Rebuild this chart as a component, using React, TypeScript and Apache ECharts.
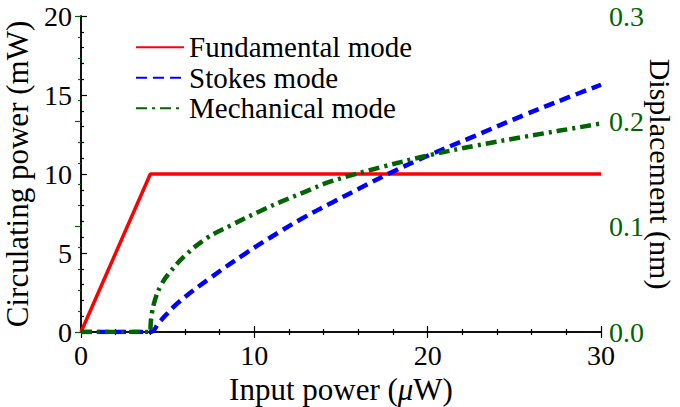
import React, { useEffect, useRef } from "react";
import * as echarts from "echarts";

const FONT = "Liberation Serif";
const GREEN = "#006400";

const seriesNames = ["Fundamental mode", "Stokes mode", "Mechanical mode"];

// Input power (μW) and circulating power (mW) of the fundamental mode
const fundX = [0, 4, 30];
const fundY = [0, 10, 10];

// Stokes mode circulating power (mW)
const stokesX = [0, 4, 4.5, 5.6, 7.5, 9.5, 11.4, 12.7, 14.5, 16, 17.8, 20.1, 22.7, 25.6, 28, 30];
const stokesY = [0, 0, 0.6, 1.85, 3.45, 4.98, 6.3, 7.15, 8.2, 9.05, 10.05, 11.2, 12.4, 13.75, 14.8, 15.65];

// Mechanical mode displacement (nm)
const mechX = [0, 4, 4.02, 4.08, 4.27, 4.6, 5.04, 6.0, 7.25, 8.69, 10.23, 11.58, 12.92, 14.37, 17.44, 20.14, 22.8, 25.6, 29.5, 30];
const mechY = [0, 0, 0.008, 0.017, 0.0305, 0.044, 0.055, 0.0725, 0.089, 0.1016, 0.114, 0.124, 0.133, 0.1427, 0.157, 0.168, 0.177, 0.1854, 0.1965, 0.198];

const zip = (xs: number[], ys: number[]) => xs.map((x, i) => [x, ys[i]]);

export default function App() {
  const ref = useRef<HTMLDivElement>(null);
  useEffect(() => {
    if (!ref.current) return;
    const chart = echarts.init(ref.current, null, { renderer: "svg" });
    const tickLine = { color: "#000", width: 1.2 };
    chart.setOption({
      animation: false,
      backgroundColor: "#fff",
      textStyle: { fontFamily: FONT },
      grid: { left: 81, right: 79, top: 16, bottom: 75, containLabel: false, outerBoundsMode: "none" },
      legend: {
        orient: "vertical",
        left: 130,
        top: 27,
        padding: 5,
        itemWidth: 48,
        itemHeight: 12,
        itemGap: 0,
        data: seriesNames,
        itemStyle: { opacity: 0 },
        textStyle: { fontFamily: FONT, fontSize: 29, color: "#000", lineHeight: 30.5 },
      },
      xAxis: [
        {
          type: "value",
          min: 0,
          max: 30,
          interval: 10,
          position: "bottom",
          name: "Input power ({it|μ}W)",
          nameLocation: "middle",
          nameGap: 32,
          nameTextStyle: {
            fontFamily: FONT,
            fontSize: 31,
            color: "#000",
            rich: { it: { fontFamily: FONT, fontSize: 31, fontStyle: "italic", color: "#000" } },
          },
          axisLine: { show: true, lineStyle: { color: "#000", width: 1.5 } },
          axisTick: { show: true, inside: true, length: 6, lineStyle: tickLine },
          minorTick: { show: true, splitNumber: 5, length: 3, lineStyle: tickLine },
          splitLine: { show: false },
          axisLabel: { fontFamily: FONT, fontSize: 28, color: "#000", margin: 9 },
        },
        {
          type: "value",
          min: 0,
          max: 30,
          interval: 10,
          position: "top",
          axisLine: { show: true, lineStyle: { color: "#000", width: 1.5 } },
          axisTick: { show: true, inside: true, length: 6, lineStyle: tickLine },
          minorTick: { show: true, splitNumber: 5, length: 3, lineStyle: tickLine },
          splitLine: { show: false },
          axisLabel: { show: false },
        },
      ],
      yAxis: [
        {
          type: "value",
          min: 0,
          max: 20,
          interval: 5,
          position: "left",
          name: "Circulating power (mW)",
          nameLocation: "middle",
          nameGap: 44,
          nameTextStyle: { fontFamily: FONT, fontSize: 31, color: "#000" },
          axisLine: { show: true, lineStyle: { color: "#000", width: 1.5 } },
          axisTick: { show: true, inside: true, length: 6, lineStyle: tickLine },
          minorTick: { show: true, splitNumber: 5, length: 3, lineStyle: tickLine },
          splitLine: { show: false },
          axisLabel: { fontFamily: FONT, fontSize: 28, color: "#000", margin: 9 },
        },
        {
          type: "value",
          min: 0,
          max: 0.3,
          interval: 0.1,
          position: "right",
          name: "Displacement (nm)",
          nameLocation: "middle",
          nameRotate: -90,
          nameGap: 44,
          nameMoveOverlap: false,
          nameTextStyle: { fontFamily: FONT, fontSize: 30, lineHeight: 30, color: "#000" },
          axisLine: { show: true, lineStyle: { color: "#000", width: 1.5 } },
          axisTick: { show: true, inside: true, length: 6, lineStyle: { color: GREEN, width: 1.2 } },
          minorTick: { show: true, splitNumber: 5, length: 3, lineStyle: { color: GREEN, width: 1.2 } },
          splitLine: { show: false },
          axisLabel: {
            fontFamily: FONT,
            fontSize: 28,
            color: GREEN,
            margin: 8,
            formatter: (v: number) => v.toFixed(1),
          },
        },
      ],
      series: [
        {
          name: seriesNames[0],
          type: "line",
          data: zip(fundX, fundY),
          symbol: "none",
          lineStyle: { color: "#ff0000", width: 3.5, type: "solid" },
          itemStyle: { color: "#ff0000" },
          z: 2,
        },
        {
          name: seriesNames[1],
          type: "line",
          data: zip(stokesX, stokesY),
          symbol: "none",
          smooth: 0.4,
          lineStyle: { color: "#0000ff", width: 4.5, type: [11, 6] },
          itemStyle: { color: "#0000ff" },
          z: 3,
        },
        {
          name: seriesNames[2],
          type: "line",
          yAxisIndex: 1,
          data: zip(mechX, mechY),
          symbol: "none",
          smooth: 0.4,
          lineStyle: { color: GREEN, width: 4.5, type: [11, 5, 3, 5] },
          itemStyle: { color: GREEN },
          z: 4,
        },
      ],
    });
    return () => chart.dispose();
  }, []);
  return (
    <div
      ref={ref}
      style={{ position: "fixed", left: 0, top: 0, width: 680, height: 407, background: "#fff" }}
    />
  );
}
